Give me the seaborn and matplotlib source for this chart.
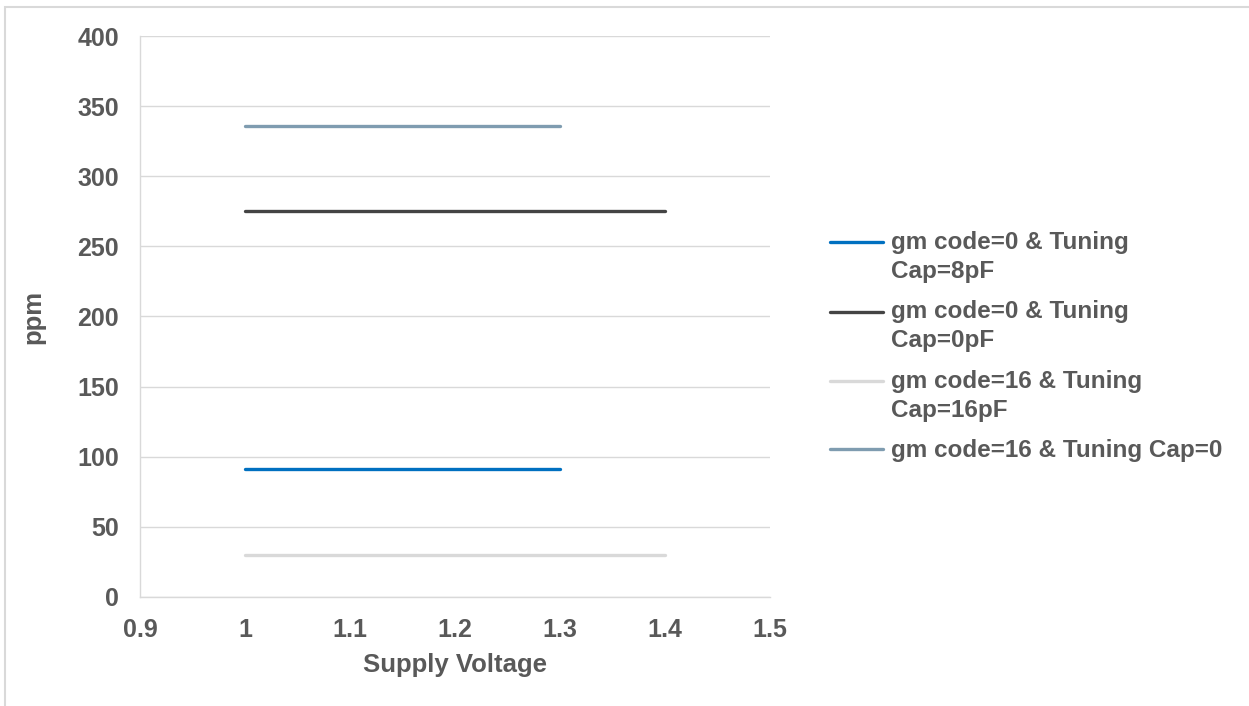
import numpy as np
import pandas as pd
import matplotlib
matplotlib.use("Agg")
import matplotlib.pyplot as plt
from matplotlib.patches import Rectangle
from matplotlib.legend_handler import HandlerLine2D
import seaborn as sns

sns.set_style("white")
plt.rcParams['font.family'] = ['Liberation Sans', 'DejaVu Sans']
plt.rcParams['font.weight'] = 'bold'

# data
labels = ["gm code=0 & Tuning\nCap=8pF",
          "gm code=0 & Tuning\nCap=0pF",
          "gm code=16 & Tuning\nCap=16pF",
          "gm code=16 & Tuning Cap=0"]
v_short = [1.0, 1.1, 1.2, 1.3]
v_long = [1.0, 1.1, 1.2, 1.3, 1.4]
ppm_cap8 = [91, 91, 91, 91]
ppm_cap0 = [275, 275, 275, 275, 275]
ppm_cap16 = [30, 30, 30, 30, 30]
ppm_gm16_cap0 = [336, 336, 336, 336]
colors = ["#0070C0", "#444444", "#D9D9D9", "#7F9CB0"]

frames = []
for lab, xs, ys in zip(labels, [v_short, v_long, v_long, v_short],
                       [ppm_cap8, ppm_cap0, ppm_cap16, ppm_gm16_cap0]):
    frames.append(pd.DataFrame({"Supply Voltage": xs, "ppm": ys, "series": lab}))
df = pd.concat(frames, ignore_index=True)


class FirstLineHandler(HandlerLine2D):
    """put the legend line next to the first line of a two line label"""
    def __init__(self, shift, **kw):
        HandlerLine2D.__init__(self, **kw)
        self.shift = shift

    def create_artists(self, legend, orig_handle, xdescent, ydescent,
                       width, height, fontsize, trans):
        arts = HandlerLine2D.create_artists(self, legend, orig_handle, xdescent, ydescent,
                                            width, height, fontsize, trans)
        for a in arts:
            a.set_ydata(np.asarray(a.get_ydata()) + self.shift * fontsize)
        return arts


txt = "#595959"
fs = 17.5
fig = plt.figure(figsize=(12.49, 7.06), dpi=100)
ax = fig.add_axes([0.112, 0.1544, 0.5045, 0.7946])

sns.lineplot(data=df, x="Supply Voltage", y="ppm", hue="series",
             hue_order=labels, palette=colors, linewidth=2.4,
             ax=ax, legend=False)

ax.set_xlim(0.9, 1.5)
ax.set_ylim(0, 400)
ax.set_xticks(np.arange(0.9, 1.51, 0.1))
ax.set_xticklabels(["0.9", "1", "1.1", "1.2", "1.3", "1.4", "1.5"])
ax.set_yticks(np.arange(0, 401, 50))
ax.grid(axis='y', color="#D9D9D9", linewidth=1)
ax.set_axisbelow(True)
for s in ["top", "right"]:
    ax.spines[s].set_visible(False)
for s in ["left", "bottom"]:
    ax.spines[s].set_color("#D9D9D9")
    ax.spines[s].set_linewidth(1)
ax.tick_params(axis='both', length=0, labelsize=18, labelcolor=txt, pad=15)
ax.set_xlabel("Supply Voltage", fontsize=18.5, color=txt, fontweight='bold', labelpad=8)
ax.set_ylabel("ppm", fontsize=18.5, color=txt, fontweight='bold', labelpad=23)

handles = [plt.Line2D([], [], color=c, linewidth=2.4) for c in colors]
hmap = {h: FirstLineHandler(0.63 if "\n" in lab else 0.0) for h, lab in zip(handles, labels)}
leg = fig.legend(handles, labels, loc='upper left', bbox_to_anchor=(830 / 1249, 1 - 231 / 706),
                 frameon=False, fontsize=fs, handlelength=2.2, handletextpad=0.3,
                 labelspacing=0.72, borderpad=0, borderaxespad=0, handler_map=hmap)
for t in leg.get_texts():
    t.set_color(txt)
    t.set_linespacing(1.33)

# outer chart frame
fig.patches.append(Rectangle((0.004, -0.01), 1.2, 1.0, transform=fig.transFigure,
                             fill=False, edgecolor="#D9D9D9", linewidth=1.5))

fig.savefig("out.png", dpi=100)
